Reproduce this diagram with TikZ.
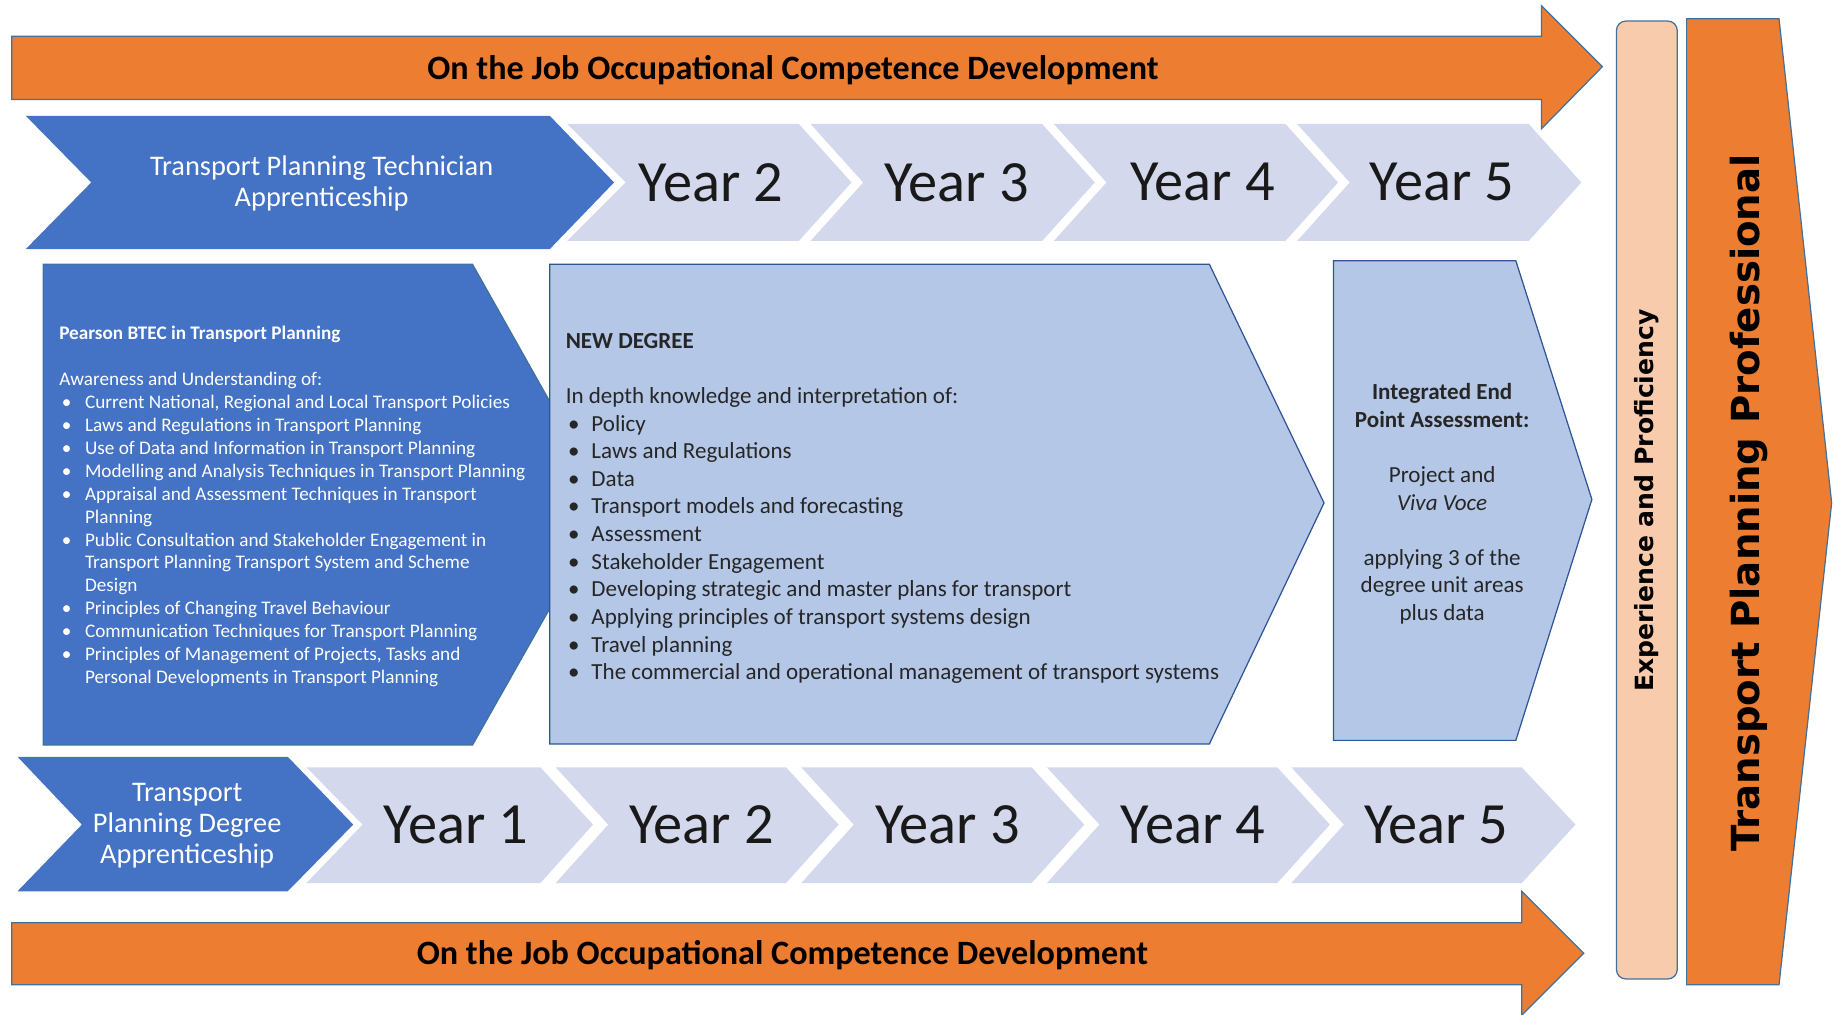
\documentclass[tikz,border=0pt]{standalone}
\usepackage{fontspec}
\setmainfont{Carlito}
\newfontfamily\widefont{DejaVu Sans}

\definecolor{jobOrange}{HTML}{ED7D31}
\definecolor{edgeBlue}{HTML}{41719C}
\definecolor{darkBlue}{HTML}{4472C4}
\definecolor{paleBlue}{HTML}{B4C7E7}
\definecolor{paleEdge}{HTML}{2F5597}
\definecolor{yearGrey}{RGB}{211,216,236}
\definecolor{peach}{HTML}{F8CBAD}
\definecolor{txtGrey}{HTML}{262626}

\newcommand{\bpt}{\makebox[6.26pt][l]{\hspace{0.6pt}•}}
\newcommand{\bindent}{\hspace*{6.26pt}}

\tikzset{
  orangebar/.style={fill=jobOrange,draw=edgeBlue,line width=0.3pt},
  yearbox/.style={fill=yearGrey},
  bluebox/.style={fill=darkBlue},
  palebox/.style={fill=paleBlue,draw=paleEdge,line width=0.3pt},
  bartxt/.style={font=\bfseries\fontsize{8.3}{10}\selectfont,text=black},
  yeartxt/.style={font=\fontsize{14.2}{17}\selectfont,text=black!90},
  apprtxt/.style={font=\fontsize{6.9}{7.5}\selectfont,text=white,align=center},
  listtxt/.style={inner sep=0pt,align=left}
}

\begin{document}
\begin{tikzpicture}[x=0.01cm,y=-0.01cm]
		\useasboundingbox (0,0) rectangle (1568,867);

		% on the job arrows
		\draw[orangebar] (10,31) -- (1318,31) -- (1318,5) -- (1370,57) -- (1318,110) -- (1318,85) -- (10,85) -- cycle;
		\draw[orangebar] (10,789) -- (1301,789) -- (1301,762) -- (1354,815) -- (1301,868) -- (1301,842) -- (10,842) -- cycle;
		\node[bartxt] (jobtop) at (678,60) {On the Job Occupational Competence Development};
		\node[bartxt] (jobbot) at (669,817) {On the Job Occupational Competence Development};

		% technician row
		\fill[bluebox] (22,99) -- (470,99) -- (525,156) -- (470,213) -- (22,213) -- (78,156) -- cycle;
		\fill[yearbox] (485,106) -- (683,106) -- (728,156) -- (683,206) -- (485,206) -- (535,156) -- cycle;
		\fill[yearbox] (693,106) -- (891,106) -- (936,156) -- (891,206) -- (693,206) -- (738,156) -- cycle;
		\fill[yearbox] (901,106) -- (1099,106) -- (1144,156) -- (1099,206) -- (901,206) -- (946,156) -- cycle;
		\fill[yearbox] (1109,106) -- (1307,106) -- (1352,156) -- (1307,206) -- (1109,206) -- (1154,156) -- cycle;
		\node[apprtxt] (tech) at (275,157) {Transport Planning Technician\\Apprenticeship};
		\node[yeartxt] (tyr2) at (608,156) {Year 2};
		\node[yeartxt] (tyr3) at (818,156) {Year 3};
		\node[yeartxt] (tyr4) at (1028,156) {Year 4};
		\node[yeartxt] (tyr5) at (1233,156) {Year 5};

		% degree row
		\fill[bluebox] (15,647) -- (246,647) -- (302,705) -- (246,762) -- (15,762) -- (70,705) -- cycle;
		\fill[yearbox] (262,656) -- (462,656) -- (507,705) -- (462,755) -- (262,755) -- (310,705) -- cycle;
		\fill[yearbox] (475,656) -- (672,656) -- (717,705) -- (672,755) -- (475,755) -- (520,705) -- cycle;
		\fill[yearbox] (685,656) -- (882,656) -- (927,705) -- (882,755) -- (685,755) -- (730,705) -- cycle;
		\fill[yearbox] (895,656) -- (1092,656) -- (1137,705) -- (1092,755) -- (895,755) -- (940,705) -- cycle;
		\fill[yearbox] (1104,656) -- (1301,656) -- (1347,705) -- (1301,755) -- (1104,755) -- (1149,705) -- cycle;
		\node[apprtxt] (degr) at (160,706) {Transport\\Planning Degree\\Apprenticeship};
		\node[yeartxt] (dyr1) at (390,705) {Year 1};
		\node[yeartxt] (dyr2) at (600,705) {Year 2};
		\node[yeartxt] (dyr3) at (810,705) {Year 3};
		\node[yeartxt] (dyr4) at (1020,705) {Year 4};
		\node[yeartxt] (dyr5) at (1228,705) {Year 5};

		% content boxes
		\draw[bluebox,draw=edgeBlue,line width=0.3pt] (37,226) -- (404,226) -- (520,432) -- (404,637) -- (37,637) -- cycle;
		\draw[palebox] (470,226) -- (1034,226) -- (1132,430) -- (1034,636) -- (470,636) -- cycle;
		\draw[palebox] (1140,223) -- (1296,223) -- (1361,427) -- (1296,633) -- (1140,633) -- cycle;

		\node[listtxt,anchor=north west,text=white,font=\fontsize{4.67}{5.58}\selectfont] (btec) at (50,278) {%
			\textbf{Pearson BTEC in Transport Planning}\\[5.58pt]
			Awareness and Understanding of:\\
			\bpt Current National, Regional and Local Transport Policies\\
			\bpt Laws and Regulations in Transport Planning\\
			\bpt Use of Data and Information in Transport Planning\\
			\bpt Modelling and Analysis Techniques in Transport Planning\\
			\bpt Appraisal and Assessment Techniques in Transport\\
			\bindent Planning\\
			\bpt Public Consultation and Stakeholder Engagement in\\
			\bindent Transport Planning Transport System and Scheme\\
			\bindent Design\\
			\bpt Principles of Changing Travel Behaviour\\
			\bpt Communication Techniques for Transport Planning\\
			\bpt Principles of Management of Projects, Tasks and\\
			\bindent Personal Developments in Transport Planning};

		\node[listtxt,anchor=north west,text=txtGrey,font=\fontsize{5.6}{6.72}\selectfont] (newdeg) at (483,284) {%
			\textbf{NEW DEGREE}\\[6.72pt]
			In depth knowledge and interpretation of:\\
			\bpt Policy\\
			\bpt Laws and Regulations\\
			\bpt Data\\
			\bpt Transport models and forecasting\\
			\bpt Assessment\\
			\bpt Stakeholder Engagement\\
			\bpt Developing strategic and master plans for transport\\
			\bpt Applying principles of transport systems design\\
			\bpt Travel planning\\
			\bpt The commercial and operational management of transport systems};

		\node[inner sep=0pt,align=center,anchor=north,text=txtGrey,font=\fontsize{5.6}{6.72}\selectfont] (epa) at (1233,327) {%
			\textbf{Integrated End}\\
			\textbf{Point Assessment:}\\[6.72pt]
			Project and\\
			\textit{Viva Voce}\\[6.72pt]
			applying 3 of the\\
			degree unit areas\\
			plus data};

		% right hand side
		\draw[fill=peach,draw=edgeBlue,line width=0.3pt,rounded corners=2.3pt] (1382,18) rectangle (1434,837);
		\draw[orangebar] (1442,16) -- (1521,16) -- (1566,430) -- (1521,842) -- (1442,842) -- cycle;
		\node[rotate=90,font=\widefont\bfseries\fontsize{6.1}{7}\selectfont] (expr) at (1408,428) {Experience and Proficiency};
		\node[rotate=90,font=\widefont\bfseries\fontsize{9.4}{11}\selectfont] (prof) at (1495,430) {Transport Planning Professional};
	\end{tikzpicture}
\end{document}
